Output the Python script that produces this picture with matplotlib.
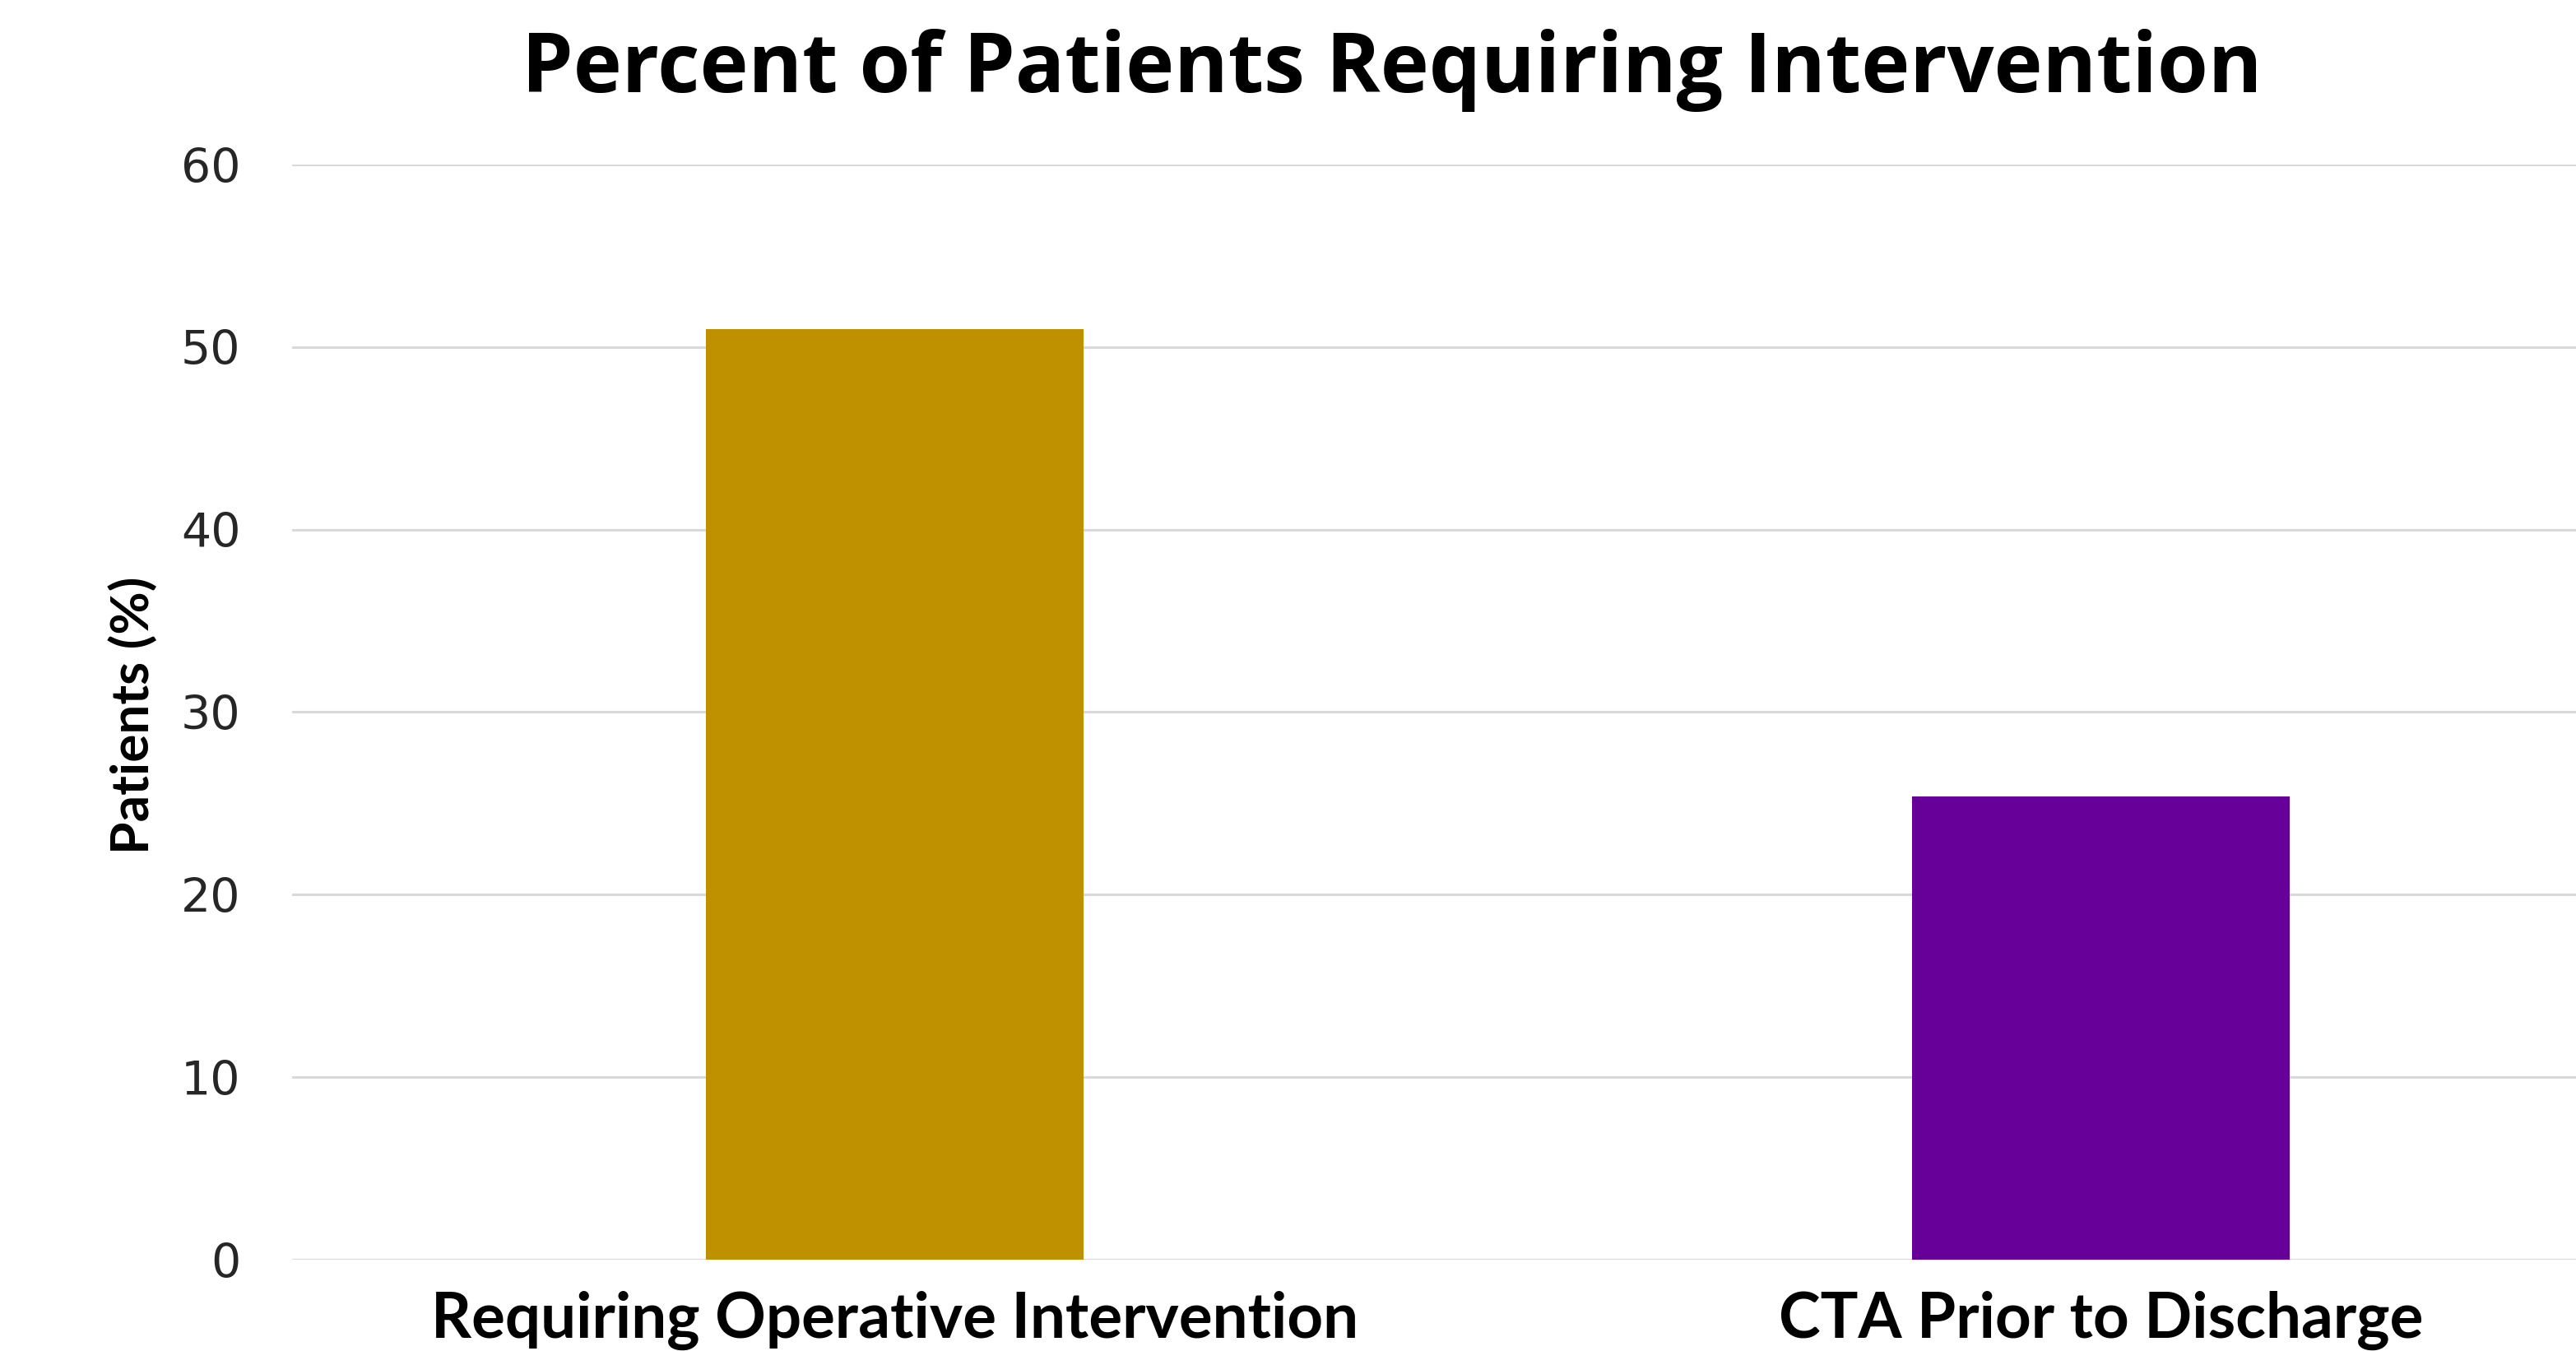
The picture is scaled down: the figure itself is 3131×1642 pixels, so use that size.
import matplotlib
matplotlib.use("Agg")
import matplotlib.pyplot as plt

categories = ["Requiring Operative Intervention", "CTA Prior to Discharge"]
values = [51.0, 25.4]
colors = ["#BF9000", "#660099"]
yticks = [0, 10, 20, 30, 40, 50, 60]
title = "Percent of Patients Requiring Intervention"
ylabel = "Patients (%)"

W, H = 3131, 1642
fig = plt.figure(figsize=(W / 100, H / 100), dpi=100)
ax = fig.add_axes([355 / W, 111 / H, 1 - 355 / W, (1531 - 200) / H])

x = list(range(len(categories)))
ax.bar(x, values, width=0.313, color=colors, zorder=3)
ax.set_xlim(-0.5, 1.394)
ax.set_ylim(0, 60)
ax.set_yticks(yticks)
ax.set_yticklabels([str(t) for t in yticks], family="DejaVu Sans", fontsize=41, color="#262626")
ax.set_xticks(x)
ax.set_xticklabels(categories, family="Lato", fontweight="bold", fontsize=55, color="black")
ax.tick_params(axis="y", length=0, pad=45)
ax.tick_params(axis="x", length=0, pad=27)
ax.grid(axis="y", color="#D9D9D9", linewidth=2.2, zorder=0)
for s in ax.spines.values():
    s.set_visible(False)

fig.text(1692 / W, 1 - 112 / H, title, ha="center", va="baseline",
         family="Open Sans", fontweight="bold", fontsize=72, color="black")
fig.text(161 / W, 1 - 869 / H, ylabel, ha="center", va="center", rotation=90,
         family="Lato", fontweight="bold", fontsize=46, color="black")

fig.savefig("out.png", dpi=100, facecolor="white")
